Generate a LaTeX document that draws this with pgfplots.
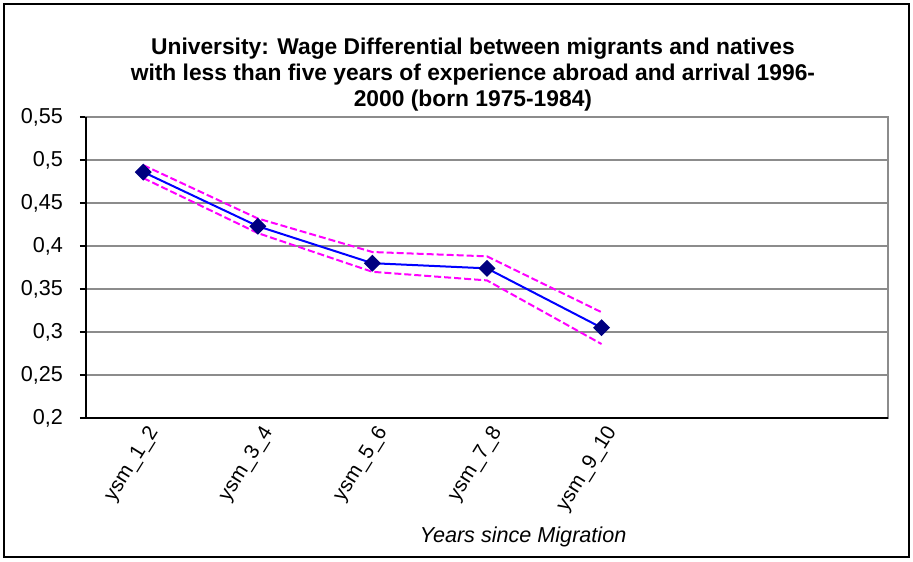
\documentclass[border=0pt]{standalone}
\usepackage{pgfplots}
\pgfplotsset{compat=1.18}
\usepackage{fontspec}
\setmainfont{Liberation Sans}
\definecolor{navym}{HTML}{000080}
\definecolor{bline}{HTML}{0000FF}
\definecolor{magd}{HTML}{FF00FF}
\begin{document}
\begin{tikzpicture}
\begin{axis}[
  scale only axis,
  width=401pt, height=150.5pt,
  xmin=0.5, xmax=7.5,
  ymin=0.2, ymax=0.55,
  ytick={0.2,0.25,0.3,0.35,0.4,0.45,0.5,0.55},
  yticklabels={0{,}2,0{,}25,0{,}3,0{,}35,0{,}4,0{,}45,0{,}5,0{,}55},
  xtick={1,2,3,4,5},
  xticklabels={ysm\_1\_2,ysm\_3\_4,ysm\_5\_6,ysm\_7\_8,ysm\_9\_10},
  extra x ticks={0.5,1.5,2.5,3.5,4.5,5.5,6.5,7.5},
  extra x tick labels={},
  extra x tick style={major tick length=3pt, tick style={black, line width=0.6pt}, grid=none},
  x tick style={draw=none},
  major tick length=3pt,
  tick align=outside,
  y tick style={black, line width=0.6pt},
  xtick pos=bottom, ytick pos=left,
  ymajorgrids,
  grid style={gray!90, line width=0.7pt},
  axis line style={gray!90, line width=0.7pt},
  yticklabel style={font=\fontsize{10.8}{12}\selectfont, xshift=-5pt},
  xticklabel style={font=\fontsize{10.3}{12}\selectfont, rotate=58, anchor=north east, inner sep=1pt, yshift=0pt, xshift=2pt},
  clip=false,
]
\addplot[magd, line width=1pt, dash pattern=on 3.5pt off 1.5pt] coordinates {(1,0.494) (2,0.432) (3,0.393) (4,0.388) (5,0.323)};
\addplot[magd, line width=1pt, dash pattern=on 3.5pt off 1.5pt] coordinates {(1,0.479) (2,0.415) (3,0.370) (4,0.360) (5,0.286)};
\addplot[bline, line width=1pt, mark=square*, mark size=2.5pt, mark options={navym, fill=navym, rotate=45, solid}] coordinates {(1,0.486) (2,0.423) (3,0.380) (4,0.374) (5,0.305)};
\draw[black, line width=1pt] (rel axis cs:0,1) -- (rel axis cs:0,0) -- (rel axis cs:1,0);
\node[align=center, font=\bfseries\fontsize{11.4}{13}\selectfont] at (rel axis cs:0.4825,1.142) {University: Wage Differential between migrants and natives\\with less than five years of experience abroad and arrival 1996-\\2000 (born 1975-1984)};
\node[font=\itshape\fontsize{10.8}{12}\selectfont] at (rel axis cs:0.545,-0.395) {Years since Migration};
\draw[black, line width=1pt] (rel axis cs:-0.1022,-0.4618) rectangle (rel axis cs:1.0262,1.3754);
\path (rel axis cs:-0.1072,-0.4751) rectangle (rel axis cs:1.0312,1.3887);
\end{axis}
\end{tikzpicture}
\end{document}
